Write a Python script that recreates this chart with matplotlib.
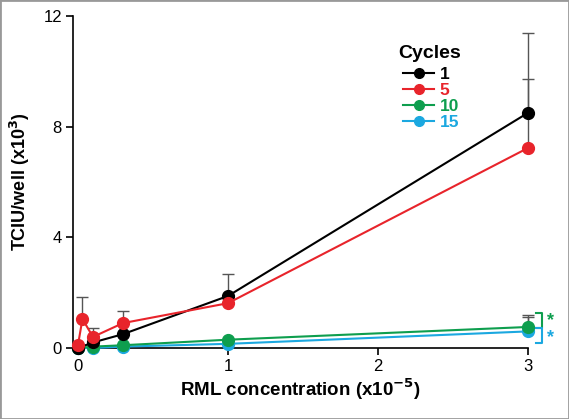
import matplotlib
matplotlib.use("Agg")
import matplotlib.pyplot as plt
from matplotlib.lines import Line2D
from matplotlib.patches import Rectangle

plt.rcParams['font.family'] = ['Liberation Sans', 'DejaVu Sans']

# Data (TCIU/well x10^3 vs RML concentration x10^-5)
x1 = [0, 0.1, 0.3, 1, 3]
y1 = [0.0, 0.2, 0.5, 1.88, 8.5]
e1 = [0, 0, 0.84, 0.8, 2.9]

x5 = [0, 0.03, 0.1, 0.3, 1, 3]
y5 = [0.1, 1.05, 0.4, 0.9, 1.62, 7.23]
e5 = [0, 0.8, 0.32, 0, 0, 2.5]

x10 = [0, 0.1, 0.3, 1, 3]
y10 = [0.0, 0.05, 0.1, 0.3, 0.76]
e10 = [0, 0, 0, 0, 0.43]

x15 = [0, 0.1, 0.3, 1, 3]
y15 = [0.0, 0.0, 0.05, 0.15, 0.6]
e15 = [0, 0, 0, 0, 0.52]

labels = ['1', '5', '10', '15']
colors = ['#000000', '#E8242B', '#0E9E4E', '#1BA8E0']
xticks = [0, 1, 2, 3]
yticks = [0, 4, 8, 12]

fig = plt.figure(figsize=(5.69, 4.19), dpi=100)
ax = fig.add_axes([73/569, 1-348/419, 455/569, 332/419])

series = [(x1, y1, e1), (x5, y5, e5), (x10, y10, e10), (x15, y15, e15)]
draw_order = [3, 2, 0, 1]
for z, i in enumerate(draw_order):
    xs, ys, es = series[i]
    ax.errorbar(xs, ys, yerr=[[0]*len(es), es], fmt='none', ecolor='#555555',
                elinewidth=1, capsize=4, capthick=1, zorder=2+z*0.1, clip_on=False)
for z, i in enumerate(draw_order):
    xs, ys, es = series[i]
    ax.plot(xs, ys, '-o', color=colors[i], lw=1.5, ms=8.5, mec=colors[i],
            zorder=3+z, clip_on=False)

ax.set_xlim(-0.033, 3.0)
ax.set_ylim(0, 12)
ax.set_xticks(xticks)
ax.set_yticks(yticks)
ax.set_xticklabels([str(t) for t in xticks])
ax.set_yticklabels([str(t) for t in yticks])
for s in ['top', 'right']:
    ax.spines[s].set_visible(False)
for s in ['left', 'bottom']:
    ax.spines[s].set_linewidth(1.2)
ax.tick_params(axis='both', labelsize=12, length=5, width=1.2, direction='out', pad=3)

ax.set_xlabel('RML concentration (x10$^{\\mathbf{-5}}$)', fontsize=13.5, fontweight='bold', labelpad=2)
ax.set_ylabel('TCIU/well (x10$^{\\mathbf{3}}$)', fontsize=13, fontweight='bold', labelpad=8)

# significance brackets
bx0, bx1 = 3.05, 3.09
for (ya, yb, c) in [(1.26, 0.72, colors[2]), (0.72, 0.18, colors[3])]:
    ax.plot([bx0, bx1, bx1, bx0], [ya, ya, yb, yb], color=c, lw=1.5, clip_on=False)
ax.text(3.15, 0.98, '*', color=colors[2], fontsize=13, fontweight='bold', ha='center', va='center')
ax.text(3.15, 0.38, '*', color=colors[3], fontsize=13, fontweight='bold', ha='center', va='center')

# legend
fig.text(398/569, 1-54/419, 'Cycles', fontsize=14, fontweight='bold', ha='left', va='center')
handles = [Line2D([0], [0], color=c, lw=1.5, marker='o', ms=7) for c in colors]
leg = fig.legend(handles, labels, loc='upper left',
                 bbox_to_anchor=(403/569, 1-67/419), frameon=False,
                 fontsize=12.5, handlelength=1.8, handletextpad=0.3,
                 labelspacing=0.05, borderaxespad=0, borderpad=0)
for t, c in zip(leg.get_texts(), colors):
    t.set_color(c)
    t.set_fontweight('bold')

fig.patches.append(Rectangle((0, 0), 1, 1, transform=fig.transFigure, fill=False,
                             edgecolor='#999999', lw=2))
fig.savefig('out.png', dpi=100)
